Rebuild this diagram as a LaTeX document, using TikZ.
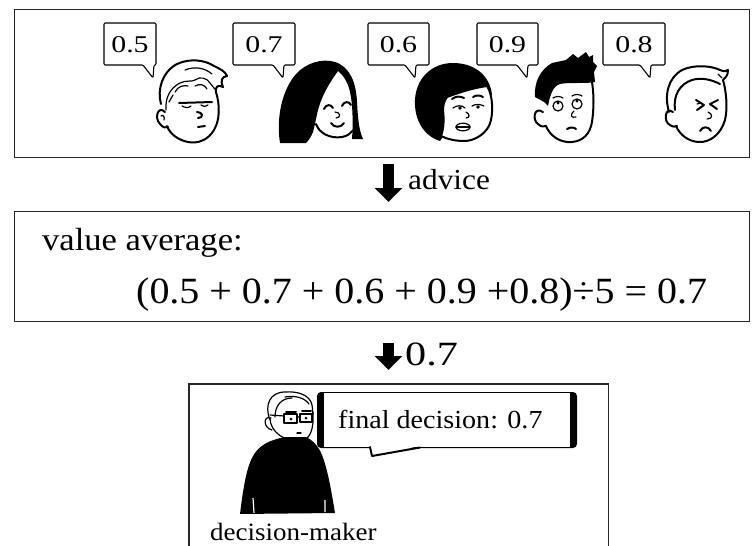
\documentclass[tikz,border=0pt]{standalone}
\usepackage{fontspec}
\setmainfont{Liberation Serif}[FakeStretch=1.08]
\usepackage{graphicx}
\usetikzlibrary{arrows.meta}

% speech bubble with a short tail below: name, left x, right x, tip x, text
\newcommand\advbubble[5]{%
  \draw[bub] (#2,23) -- (#3,23) -- (#3,65) -- (#4+1,65) -- (#4,78) -- (#4-10,65) -- (#2,65) -- cycle;
  \node[bubtext] (#1) at ({(#2+#3)/2},44.5) {\scalebox{1.15}[1]{#5}};}

\begin{document}
\begin{tikzpicture}[x=1pt,y=-1pt,
  panel/.style={draw=black!85, line width=1.1pt},
  bub/.style={draw, line width=1.1pt, fill=white, line join=round, rounded corners=1.2pt},
  bubtext/.style={font=\fontsize{24}{24}\selectfont, inner sep=0pt},
  ink/.style={line width=2pt, line cap=round, line join=round},
  fine/.style={line width=1.2pt, line cap=round, line join=round},
  blockarrow/.style={line width=11pt, -{Triangle[width=27pt,length=14pt]}},
  txt/.style={inner sep=0pt, anchor=base west},
]
\useasboundingbox (0,0) rectangle (753,546);

% ---------- panels ----------
\node[panel, anchor=north west, minimum width=735pt, minimum height=148pt, inner sep=0pt] (crowd) at (14,9) {};
\node[panel, anchor=north west, minimum width=735pt, minimum height=110pt, inner sep=0pt] (avg) at (14,211) {};
\node[anchor=north west, minimum width=419pt, minimum height=170pt, inner sep=0pt] (desk) at (189,384) {};
\draw[panel] (desk.south west) -- (desk.north west) -- (desk.north east) -- (desk.south east);

% ---------- arrows between panels ----------
\coordinate (axis) at (388.5,0);
\draw[blockarrow, shorten <=6pt, shorten >=9pt] (crowd.south -| axis) -- (avg.north -| axis);
\draw[blockarrow, shorten <=21pt, shorten >=14pt] (avg.south -| axis) -- (desk.north -| axis);
\node[txt, font=\fontsize{29}{29}\selectfont] (advice) at (408,189) {advice};
\node[txt, font=\fontsize{34}{34}\selectfont] (passed) at (405,365) {\scalebox{1.15}[1]{0.7}};

% ---------- averaging ----------
\node[txt, font=\fontsize{32}{32}\selectfont] (avglabel) at (42,250) {value average:};
\node[txt, font=\fontsize{37}{37}\selectfont] (formula) at (136,303) {(0.5 + 0.7 + 0.6 + 0.9 +0.8)÷5 = 0.7};

% ---------- advisers' bubbles ----------
\advbubble{v1}{104}{156}{153}{0.5}
\advbubble{v2}{233}{295}{283}{0.7}
\advbubble{v3}{368}{429}{415}{0.6}
\advbubble{v4}{477}{538}{527}{0.9}
\advbubble{v5}{603}{665}{650}{0.8}

% ---------- adviser 1: wavy-haired boy ----------
\draw[ink] (161,104) .. controls (157,90) and (162,72) .. (177,64) .. controls (190,58) and (205,60) .. (214,66)
  .. controls (220,69) and (225,71) .. (227,76) .. controls (222,77) and (220,80) .. (223,87)
  .. controls (218,84) and (215,87) .. (216,92);
\draw[ink] (216,92) .. controls (220,105) and (220,120) .. (214,130) .. controls (208,140) and (198,144) .. (188,142)
  .. controls (178,140) and (170,134) .. (167,126);
\draw[ink] (165,112) .. controls (158,105) and (154,118) .. (160,124) .. controls (163,128) and (166,128) .. (168,127);
\draw[fine] (161,116) .. controls (163,114) and (165,117) .. (164,120);
\draw[fine] (166,110) .. controls (165,98) and (170,88) .. (180,83) .. controls (186,80) and (192,82) .. (195,80)
  .. controls (200,76) and (207,78) .. (210,83) .. controls (212,86) and (214,88) .. (216,90);
\draw[fine] (175,92) .. controls (178,86) and (184,85) .. (188,86);
\draw[fine] (195,86) .. controls (200,83) and (205,85) .. (207,89);
\draw[fine] (169,102) -- (173,95);
\draw[fine] (185,70) .. controls (195,66) and (205,68) .. (212,74);
\draw[ink] (179,103) -- (212,102);
\draw[fine] (182,106) .. controls (185,108) and (189,108) .. (191,106);
\draw[fine] (201,105) .. controls (203,107) and (206,107) .. (208,105);
\draw[ink] (197,112) .. controls (203,112) and (204,118) .. (198,118);
\draw[ink] (198,127) -- (205,126);

% ---------- adviser 2: girl with long black hair ----------
\fill (280,143) .. controls (276,118) and (282,90) .. (296,74) .. controls (306,63) and (322,58) .. (335,62)
  .. controls (350,67) and (356,82) .. (357,102) .. controls (358,120) and (359,130) .. (363,139) -- (352,139)
  .. controls (353,125) and (353,105) .. (350,92) .. controls (348,82) and (343,75) .. (338,71)
  .. controls (330,82) and (322,95) .. (318,110) .. controls (316,118) and (315,125) .. (313,132)
  .. controls (311,137) and (309,140) .. (306,143) -- cycle;
\draw[ink] (316,124) .. controls (319,133) and (330,139) .. (342,137) .. controls (347,136) and (350,134) .. (352,131);
\draw[ink] (324,109) .. controls (326,104) and (331,104) .. (333,108);
\draw[ink] (342,106) .. controls (344,101) and (349,101) .. (351,105);
\draw[fine] (335,112) .. controls (341,112) and (341,118) .. (336,118);
\draw[ink] (331,123) .. controls (334,128) and (341,128) .. (344,123);

% ---------- adviser 3: woman with a bob ----------
\fill (440,141) .. controls (424,136) and (414,120) .. (415,100) .. controls (416,78) and (432,63) .. (453,63)
  .. controls (474,63) and (490,75) .. (492,95) -- (470,100) -- cycle;
\filldraw[fill=white, ink] (447,97) .. controls (458,93) and (472,88) .. (487,86) .. controls (493,95) and (494,115) .. (489,126)
  .. controls (484,135) and (474,141) .. (464,141) .. controls (455,141) and (447,139) .. (441,136)
  .. controls (444,128) and (444,118) .. (443,110) .. controls (443,104) and (445,100) .. (447,97) -- cycle;
\draw[ink] (452,99) .. controls (456,96) and (460,96) .. (464,98);
\draw[ink] (473,97) .. controls (476,95) and (480,95) .. (483,97);
\draw[fine] (453,108) .. controls (457,105) and (462,105) .. (465,108);
\draw[fine] (472,106) .. controls (475,104) and (480,104) .. (484,106);
\fill (460,108) circle (1.9) (478,107) circle (1.9);
\draw[fine] (466,112) .. controls (470,114) and (470,118) .. (466,118);
\draw[fine] (463,127) ellipse (7 and 3.8);
\draw[fine] (456,127) -- (470,127);

% ---------- adviser 4: spiky-haired boy ----------
\draw[ink] (543,112) .. controls (534,106) and (532,120) .. (538,124) .. controls (541,127) and (544,127) .. (546,126);
\draw[ink] (546,126) .. controls (550,136) and (560,143) .. (572,142) .. controls (583,141) and (590,134) .. (592,122)
  .. controls (594,108) and (594,95) .. (592,82);
\fill (535,97) .. controls (534,82) and (540,70) .. (552,63) -- (566,60) -- (573,54) -- (578,58) -- (586,52) -- (589,57)
  -- (593,55) -- (593,62) -- (597,66) -- (594,72) -- (595,82) .. controls (585,84) and (570,82) .. (560,84)
  .. controls (553,86) and (550,95) .. (548,106) -- (544,102) -- cycle;
\draw[fine] (558,106) circle (5) (577,104) circle (5);
\fill (558,103) circle (1.7) (577,101) circle (1.7);
\draw[fine] (553,98) .. controls (556,96) and (560,96) .. (563,98);
\draw[fine] (572,96) .. controls (575,94) and (579,94) .. (582,96);
\draw[fine] (574,111) .. controls (569,116) and (572,118) .. (576,117);
\draw[ink] (567,129) .. controls (570,127) and (574,127) .. (576,129);

% ---------- adviser 5: frowning boy ----------
\draw[ink] (669,112) .. controls (664,95) and (668,78) .. (682,70) .. controls (695,64) and (712,66) .. (720,70)
  .. controls (724,72) and (727,71) .. (728,70) .. controls (728,76) and (725,78) .. (723,80)
  .. controls (726,90) and (728,108) .. (725,120) .. controls (721,134) and (710,143) .. (698,142)
  .. controls (688,141) and (680,135) .. (676,126);
\draw[ink] (673,112) .. controls (665,106) and (663,122) .. (670,125) .. controls (673,127) and (675,127) .. (677,126);
\draw[ink] (675,110) .. controls (673,95) and (680,84) .. (692,80) .. controls (702,77) and (712,80) .. (720,84);
\draw[fine] (718,74) -- (722,78);
\draw[ink] (696,100) -- (704,105) -- (697,110);
\draw[ink] (718,100) -- (710,104) -- (717,109);
\draw[fine] (697,104) -- (701,103);
\draw[fine] (708,112) .. controls (713,114) and (713,119) .. (707,119);
\draw[ink] (700,131) .. controls (703,126) and (708,126) .. (711,131);

% ---------- decision-maker ----------
\fill (285,437) .. controls (270,440) and (258,445) .. (252,458) .. controls (246,470) and (243,490) .. (240,514)
  -- (335,513) .. controls (332,495) and (328,470) .. (322,455) .. controls (318,445) and (312,440) .. (306,437) -- cycle;
\draw[white, line width=1.2pt] (253,498) -- (254,513) (325,500) -- (325,512);
\draw[fine] (270,418) .. controls (270,432) and (285,442) .. (300,441) .. controls (310,440) and (314,430) .. (313,412);
\draw[fine] (271,418) .. controls (263,415) and (263,428) .. (272,430);
\draw[fine] (270,420) .. controls (264,405) and (270,392) .. (285,392) .. controls (298,391) and (310,395) .. (312,405)
  .. controls (313,410) and (312,412) .. (313,414);
\draw[fine] (275,417) .. controls (275,405) and (282,398) .. (292,398);
\draw[fine] (285,397) .. controls (295,395) and (305,398) .. (309,404);
\draw[fine] (284,414) rectangle (297,423) (300,414) rectangle (312,422);
\draw[fine] (297,417) -- (300,417) (284,416) -- (270,415);
\draw[ink] (286,412) -- (296,412) (302,411) -- (311,411);
\fill (291,419) circle (1.5) (306,418) circle (1.5);
\draw[fine] (297,433) -- (301,433);
\node[txt, font=\fontsize{25}{25}\selectfont] (role) at (210,540) {decision-maker};

% ---------- decision bubble ----------
\fill[rounded corners=4pt] (317,392) rectangle (577,448);
\fill[white] (324,393.2) rectangle (570,446.8);
\fill[white] (370,446) -- (372,456) -- (420,446) -- cycle;
\draw[ink] (370,447) -- (372,456) -- (420,447.5);
\node[txt, font=\fontsize{26}{26}\selectfont] (verdict) at (338,428) {final decision: 0.7};
\end{tikzpicture}
\end{document}
